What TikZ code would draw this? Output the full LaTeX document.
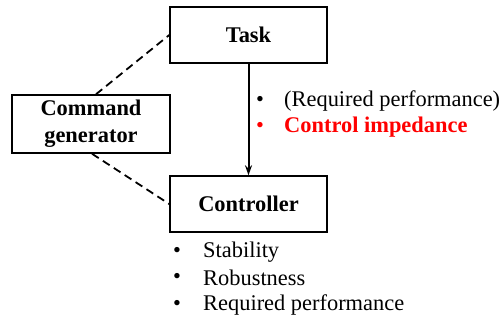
\documentclass[tikz,border=0pt]{standalone}
\usepackage{fontspec}
\setmainfont{Liberation Serif}
\usetikzlibrary{arrows.meta}
\begin{document}
\begin{tikzpicture}[x=1bp,y=-1bp,
  blockbox/.style={draw, line width=1.5bp, minimum width=157bp, minimum height=56bp,
    inner sep=0pt, font=\fontsize{22.5}{27}\selectfont\bfseries, align=center},
  link/.style={line width=1.8bp, dash pattern=on 8bp off 5bp},
  bul/.style={anchor=west, inner sep=0pt, font=\fontsize{22.5}{26}\selectfont},
  dot/.style={anchor=center, inner sep=0pt, font=\fontsize{22.5}{26}\selectfont}]
  \useasboundingbox (0,0) rectangle (500,322);
  % blocks
  \node[blockbox] (task) at (248.5,35) {\raisebox{-2bp}{Task}};
  \node[blockbox, minimum width=158bp, minimum height=58bp] (cmd) at (91,124) {Command\\generator};
  \node[blockbox] (ctrl) at (248.5,204) {\raisebox{-2bp}{Controller}};
  % connectors
  \draw[line width=2bp, -{Stealth[length=10bp,width=7bp]}] (task.south) -- (ctrl.north);
  \draw[link] (cmd.north) ++(5,0) coordinate (c1) -- (task.west);
  \draw[link] (cmd.south) ++(1,0) coordinate (c2) -- (ctrl.west);
  % notes on the arrow
  \node[dot] (b1) at (260,101) {\textbullet};
  \node[bul] (t1) at (284,101) {(Required performance)};
  \node[dot, text=red] (b2) at (260,127) {\textbullet};
  \node[bul, text=red, font=\fontsize{22.5}{26}\selectfont\bfseries] (t2) at (284,127) {Control impedance};
  % controller requirements
  \node[dot] (b3) at (177,252) {\textbullet};
  \node[bul] (t3) at (203,252) {Stability};
  \node[dot] (b4) at (177,278) {\textbullet};
  \node[bul] (t4) at (203,278) {Robustness};
  \node[dot] (b5) at (177,305) {\textbullet};
  \node[bul] (t5) at (203,305) {Required performance};
\end{tikzpicture}
\end{document}
